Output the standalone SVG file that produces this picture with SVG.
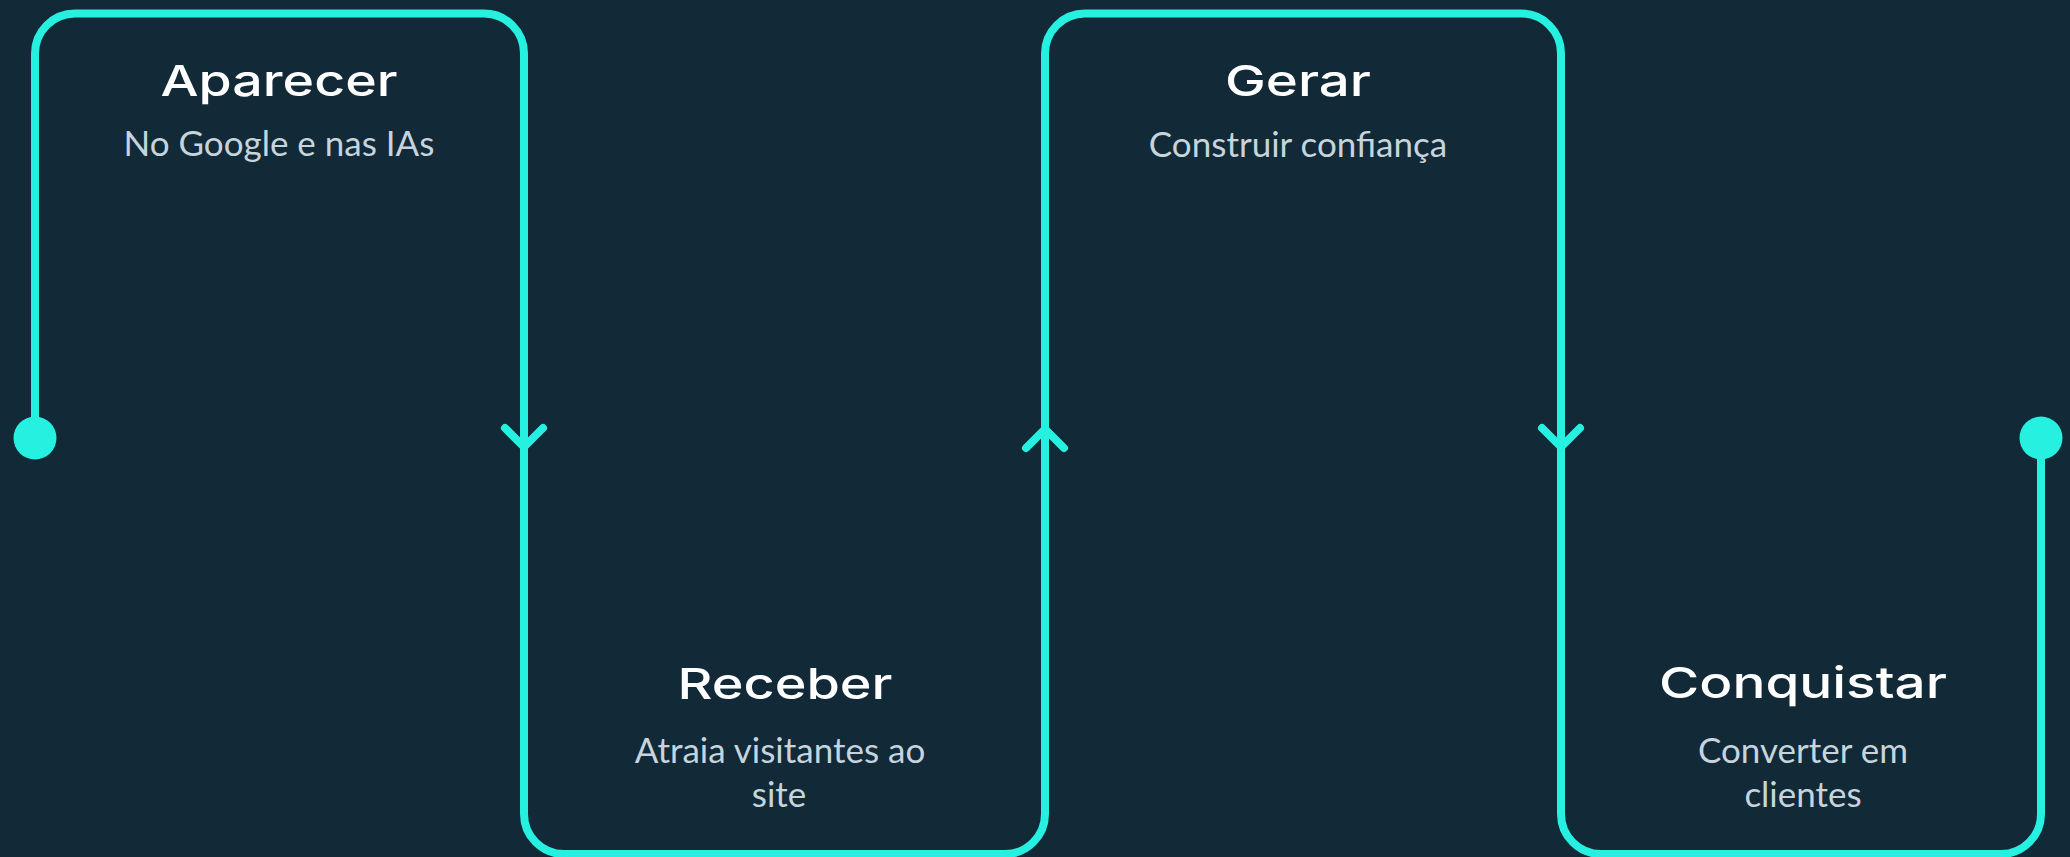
<svg xmlns="http://www.w3.org/2000/svg" width="2070" height="857" viewBox="0 0 2070 857">
<style>
.bg{fill:#122937}
.flow{fill:none;stroke:#26F0DF;stroke-width:8;stroke-linecap:round;stroke-linejoin:round}
.dot{fill:#26F0DF}
.title{font-family:Inter,"Liberation Sans",sans-serif;font-weight:500;font-size:43px;fill:#FFFFFF;text-anchor:middle}
.sub{font-family:Lato,"Open Sans","Liberation Sans",sans-serif;font-weight:400;font-size:35px;fill:#C6D4DD;text-anchor:middle}
</style>
<rect class="bg" x="0" y="0" width="2070" height="857"/>
<g id="connectors">
<path class="flow" d="M35 438 V53.5 A40 40 0 0 1 75 13.5 H484 A40 40 0 0 1 524 53.5 V814 A40 40 0 0 0 564 854 H1005 A40 40 0 0 0 1045 814 V53.5 A40 40 0 0 1 1085 13.5 H1521 A40 40 0 0 1 1561 53.5 V814 A40 40 0 0 0 1601 854 H2001 A40 40 0 0 0 2041 814 V438"/>
<path class="flow" d="M505 428 L524 447 L543 428"/>
<path class="flow" d="M1026 448 L1045 429 L1064 448"/>
<path class="flow" d="M1542 428 L1561 447 L1580 428"/>
<circle class="dot" cx="35" cy="438" r="21.5"/>
<circle class="dot" cx="2041" cy="438" r="21.5"/>
</g>
<g id="node-aparecer">
<text class="title" x="279" y="96" textLength="237" lengthAdjust="spacingAndGlyphs">Aparecer</text>
<text class="sub" x="279" y="156">No Google e nas IAs</text>
</g>
<g id="node-receber">
<text class="title" x="785" y="699" textLength="215" lengthAdjust="spacingAndGlyphs">Receber</text>
<text class="sub" x="780" y="763">Atraia visitantes ao</text>
<text class="sub" x="779" y="807">site</text>
</g>
<g id="node-gerar">
<text class="title" x="1298" y="96" textLength="146" lengthAdjust="spacingAndGlyphs">Gerar</text>
<text class="sub" x="1298" y="157">Construir confiança</text>
</g>
<g id="node-conquistar">
<text class="title" x="1803" y="698" textLength="288" lengthAdjust="spacingAndGlyphs">Conquistar</text>
<text class="sub" x="1803" y="763">Converter em</text>
<text class="sub" x="1803" y="807">clientes</text>
</g>
</svg>
